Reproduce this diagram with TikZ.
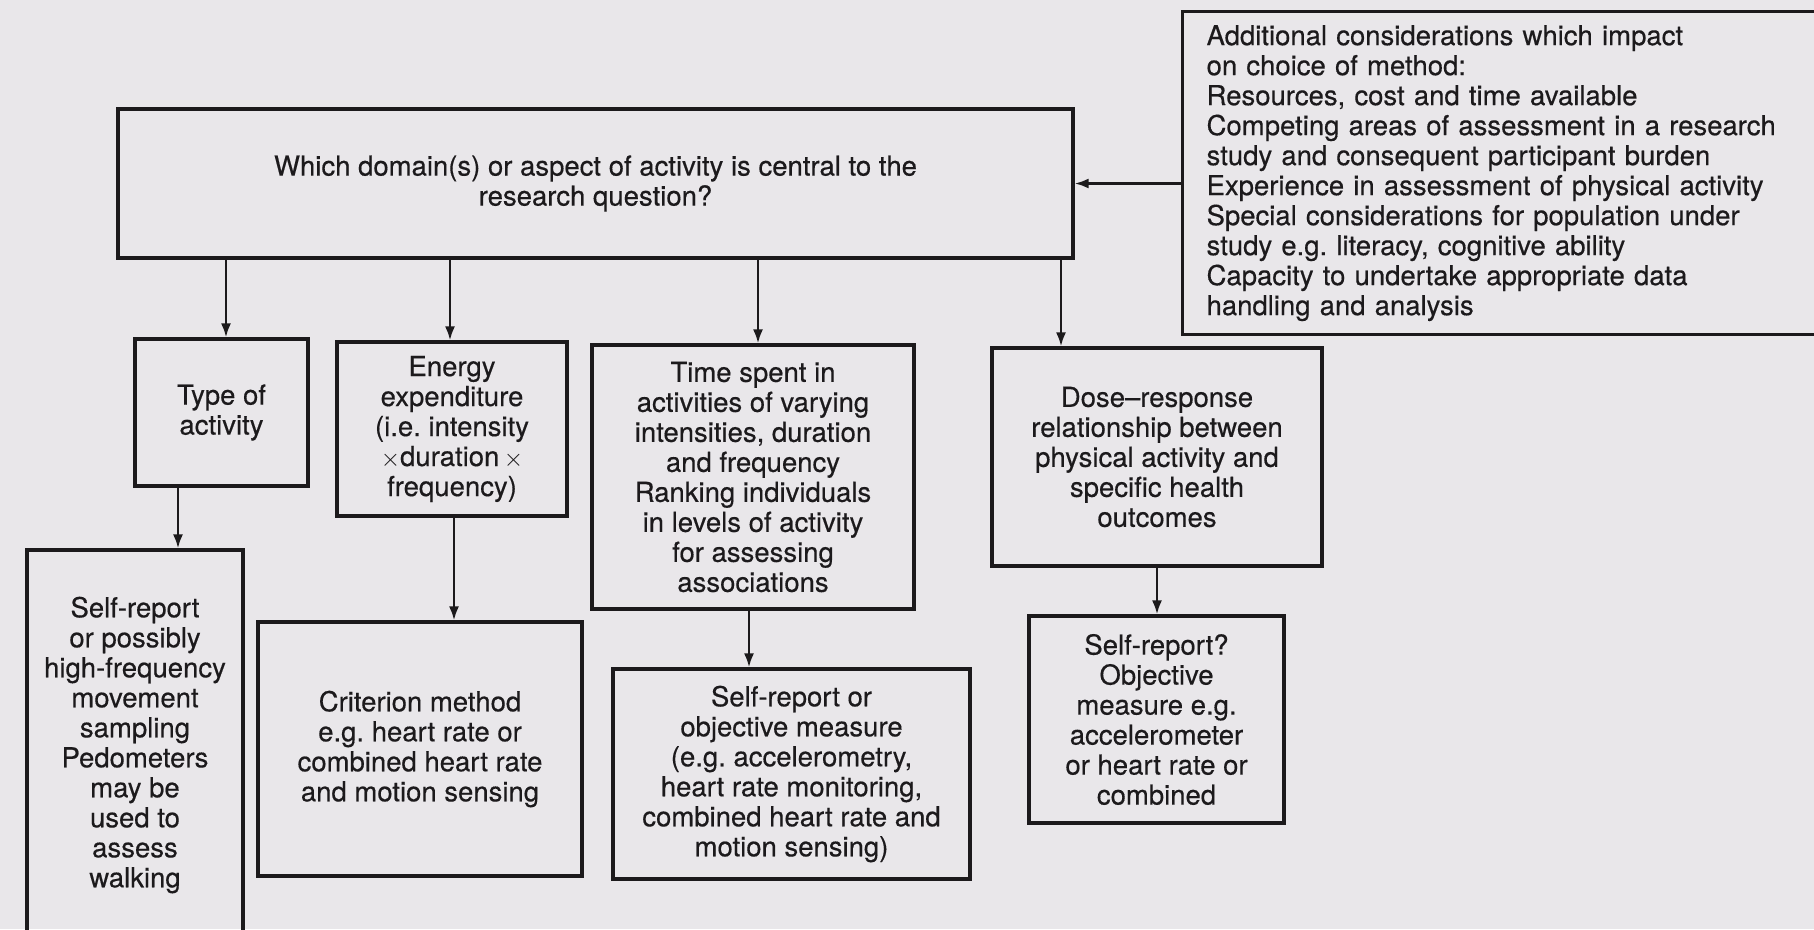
\documentclass[tikz,border=0pt]{standalone}
\usepackage{fontspec}
\setmainfont{TeX Gyre Heros}[FakeBold=0.4]
\usetikzlibrary{arrows.meta}
\definecolor{bg}{RGB}{233,231,234}
\definecolor{ink}{RGB}{28,26,28}
\begin{document}
\frenchspacing
\begin{tikzpicture}[x=1pt,y=-1pt,
  box/.style={draw=ink, line width=3.2pt, align=center, inner sep=4pt,
    font=\fontsize{27.5}{30}\selectfont, text=ink},
  arr/.style={draw=ink, line width=2.4pt, -{Latex[length=14pt,width=10pt]}}]
\fill[bg] (0,0) rectangle (1814,929);
\useasboundingbox (0,0) rectangle (1814,929);
\clip (0,0) rectangle (1814,929);

\node[box, minimum width=955, minimum height=149] (main) at (595.5,183.5)
  {Which domain(s) or aspect of activity is central to the\\research question?};

\node[box, anchor=north west, minimum height=323, text width=610, inner xsep=24, align=left] (cons) at (1181,10)
  {Additional considerations which impact\\
   on choice of method:\\
   Resources, cost and time available\\
   Competing areas of assessment in a research\\
   study and consequent participant burden\\
   Experience in assessment of physical activity\\
   Special considerations for population under\\
   study e.g. literacy, cognitive ability\\
   Capacity to undertake appropriate data\\
   handling and analysis};

\node[box, minimum width=173, minimum height=147] (type) at (221.5,412.5)
  {Type of\\activity};
\node[box, minimum width=230, minimum height=174] (energy) at (452,429)
  {Energy\\expenditure\\(i.e. intensity\\$\times$duration\,$\times$\\frequency)};
\node[box, minimum width=322, minimum height=264] (time) at (753,477)
  {Time spent in\\activities of varying\\intensities, duration\\and frequency\\Ranking individuals\\in levels of activity\\for assessing\\associations};
\node[box, minimum width=330, minimum height=218] (dose) at (1157,457)
  {Dose–response\\relationship between\\physical activity and\\specific health\\outcomes};

\node[box, minimum width=216, minimum height=390] (self) at (135,745)
  {Self-report\\or possibly\\high-frequency\\movement\\sampling\\Pedometers\\may be\\used to\\assess\\walking};
\node[box, minimum width=324, minimum height=254] (crit) at (420,749)
  {Criterion method\\e.g. heart rate or\\combined heart rate\\and motion sensing};
\node[box, minimum width=357, minimum height=210] (obj) at (791.5,774)
  {Self-report or\\objective measure\\(e.g. accelerometry,\\heart rate monitoring,\\combined heart rate and\\motion sensing)};
\node[box, minimum width=255, minimum height=207] (sr) at (1156.5,719.5)
  {Self-report?\\Objective\\measure e.g.\\accelerometer\\or heart rate or\\combined};

\draw[arr] (cons.west |- main.east) -- (main.east);

\draw[arr] (226,0 |- main.south) -- (226,0 |- type.north);
\draw[arr] (450,0 |- main.south) -- (450,0 |- energy.north);
\draw[arr] (758,0 |- main.south) -- (758,0 |- time.north);
\draw[arr] (1061,0 |- main.south) -- (1061,0 |- dose.north);

\draw[arr] (178,0 |- type.south) -- (178,0 |- self.north);
\draw[arr] (454,0 |- energy.south) -- (454,0 |- crit.north);
\draw[arr] (749,0 |- time.south) -- (749,0 |- obj.north);
\draw[arr] (1157,0 |- dose.south) -- (1157,0 |- sr.north);
\end{tikzpicture}
\end{document}
